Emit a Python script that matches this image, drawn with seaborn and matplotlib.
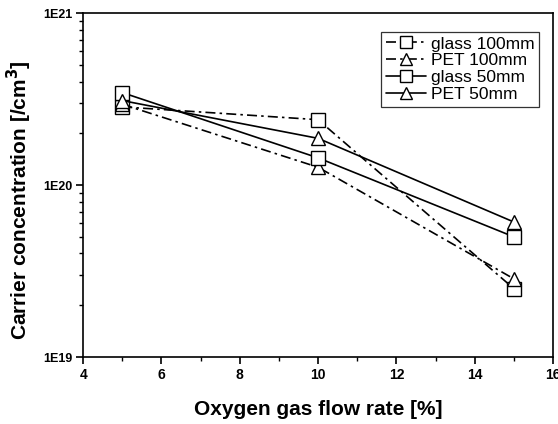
import numpy as np
import pandas as pd
import matplotlib
matplotlib.use("Agg")
import matplotlib.pyplot as plt
import seaborn as sns
from matplotlib.ticker import FixedLocator, LogLocator, NullFormatter, MultipleLocator

sns.set_theme(style="ticks")
plt.rcParams['font.family'] = ['Liberation Sans', 'DejaVu Sans']
for k in ["text.color", "axes.labelcolor", "xtick.color", "ytick.color", "axes.edgecolor"]:
    plt.rcParams[k] = "black"

flow = [5, 10, 15]
glass_100 = [2.85e20, 2.4e20, 2.5e19]
pet_100 = [2.95e20, 1.27e20, 2.85e19]
glass_50 = [3.45e20, 1.44e20, 5.0e19]
pet_50 = [3.1e20, 1.87e20, 6.1e19]
series_names = ["glass 100mm", "PET 100mm", "glass 50mm", "PET 50mm"]
ytick_vals = [1e19, 1e20, 1e21]
ytick_labels = ["1E19", "1E20", "1E21"]
xtick_vals = [4, 6, 8, 10, 12, 14, 16]

df = pd.DataFrame({
    "flow": flow * 4,
    "conc": glass_100 + pet_100 + glass_50 + pet_50,
    "series": sum([[n] * 3 for n in series_names], []),
})

fig = plt.figure(figsize=(5.58, 4.24), dpi=100)
ax = fig.add_axes([0.149, 0.158, 0.842, 0.811])

dashdot = (0, (6, 2.5, 1.5, 2.5))
styles = {
    "glass 100mm": dict(marker="s", ls=dashdot),
    "PET 100mm": dict(marker="^", ls=dashdot),
    "glass 50mm": dict(marker="s", ls="-"),
    "PET 50mm": dict(marker="^", ls="-"),
}
for name in series_names:
    sub = df[df["series"] == name]
    st = styles[name]
    sns.lineplot(x="flow", y="conc", data=sub, ax=ax, color="black", marker=st["marker"],
                 markersize=10, markerfacecolor="white", markeredgecolor="black",
                 markeredgewidth=1.0, linewidth=1.2, linestyle=st["ls"], label=name)

ax.set_yscale("log")
ax.set_ylim(1e19, 1e21)
ax.set_xlim(4, 16)
ax.yaxis.set_major_locator(FixedLocator(ytick_vals))
ax.set_yticklabels(ytick_labels, fontsize=9, fontweight="bold")
ax.yaxis.set_minor_locator(LogLocator(base=10, subs=np.arange(2, 10)))
ax.yaxis.set_minor_formatter(NullFormatter())
ax.xaxis.set_major_locator(FixedLocator(xtick_vals))
ax.set_xticklabels([str(v) for v in xtick_vals], fontsize=10, fontweight="bold")
ax.xaxis.set_minor_locator(MultipleLocator(1))

ax.tick_params(axis="both", which="major", direction="out", length=5, width=1.2, color="black", pad=3)
ax.tick_params(axis="both", which="minor", direction="out", length=3, width=1.0, color="black")
ax.tick_params(axis="both", top=False, right=False, which="both")
for sp in ax.spines.values():
    sp.set_linewidth(1.2)
    sp.set_color("black")

ax.set_xlabel("Oxygen gas flow rate [%]", fontsize=15, fontweight="bold")
ax.set_ylabel("Carrier concentration [/cm$^\\mathbf{3}$]", fontsize=15, fontweight="bold")
ax.xaxis.set_label_coords(0.5, -0.125)
ax.yaxis.set_label_coords(-0.105, 0.455)

leg = ax.legend(loc="upper right", bbox_to_anchor=(0.97, 0.945), frameon=True, fancybox=False,
                edgecolor="black", fontsize=12.5, handlelength=2.3, handletextpad=0.3,
                borderpad=0.25, labelspacing=0.1, borderaxespad=0.0, markerscale=0.85)
leg.get_frame().set_linewidth(0.9)
ax.grid(False)
ax.set_facecolor("white")
fig.patch.set_facecolor("white")

fig.savefig("out.png", dpi=100)
